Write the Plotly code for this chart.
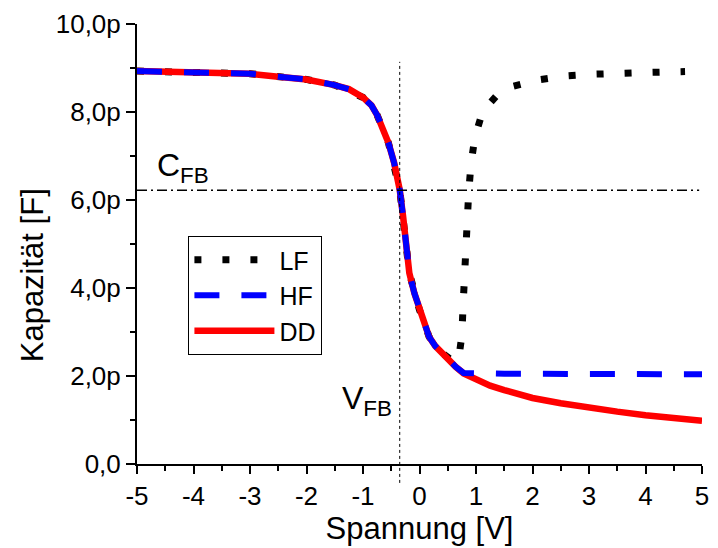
import plotly.graph_objects as go

# ---------------- data ----------------
V_DD = [-5.0, -4.5, -4.0, -3.5, -3.0, -2.5, -2.0, -1.5, -1.25, -1.0, -0.85, -0.75,
        -0.65, -0.55, -0.45, -0.35, -0.29, -0.24, -0.18, -0.09, 0.0, 0.08, 0.17,
        0.28, 0.40, 0.52, 0.64, 0.78, 1.0, 1.25, 1.5, 2.0, 2.5, 3.0, 3.5, 4.0,
        4.5, 5.0]
C_DD = [8.93, 8.92, 8.91, 8.89, 8.87, 8.80, 8.74, 8.61, 8.52, 8.33, 8.15, 7.93,
        7.65, 7.30, 6.85, 6.23, 5.62, 4.94, 4.34, 3.88, 3.50, 3.17, 2.89,
        2.68, 2.52, 2.35, 2.21, 2.06, 1.92, 1.78, 1.68, 1.50, 1.38, 1.27, 1.19, 1.11,
        1.04, 0.98]

V_HF = [-5.0, -4.5, -4.0, -3.5, -3.0, -2.5, -2.0, -1.5, -1.25, -1.0, -0.85, -0.75,
        -0.65, -0.55, -0.45, -0.35, -0.29, -0.24, -0.18, -0.09, 0.0, 0.08, 0.17,
        0.28, 0.40, 0.52, 0.64, 0.78, 1.0, 1.5, 2.0, 3.0, 4.0, 5.0]
C_HF = [8.93, 8.92, 8.91, 8.89, 8.87, 8.80, 8.74, 8.61, 8.52, 8.33, 8.15, 7.93,
        7.65, 7.30, 6.85, 6.23, 5.62, 4.94, 4.34, 3.88, 3.50, 3.17, 2.89,
        2.68, 2.52, 2.35, 2.21, 2.07, 2.06, 2.05, 2.05, 2.04, 2.04, 2.04]

V_LF = [-5.0, -4.0, -3.0, -2.0, -1.5, -1.0, -0.75, -0.55, -0.35, -0.18, 0.0, 0.17,
        0.40, 0.55, 0.65, 0.70, 0.73, 0.75, 0.77, 0.79, 0.80, 0.84, 0.87, 0.91,
        0.98, 1.08, 1.17, 1.35, 1.61, 2.1, 2.6, 3.1, 3.58, 4.09, 4.7]
C_LF = [8.93, 8.91, 8.87, 8.74, 8.61, 8.33, 7.93, 7.30, 6.23, 4.34, 3.50, 2.89,
        2.52, 2.38, 2.32, 2.45, 2.65, 2.93, 3.57, 4.23, 4.86, 5.50, 6.16, 6.80,
        7.43, 7.85, 8.09, 8.35, 8.57, 8.73, 8.82, 8.86, 8.89, 8.90, 8.92]

V_FB = -0.35     # flat-band voltage
C_FB = 6.22      # flat-band capacitance (pF)

X_RANGE = [-5, 5]
Y_RANGE = [0, 10]
X_TICKS = [-5, -4, -3, -2, -1, 0, 1, 2, 3, 4, 5]
X_TICKTEXT = ["-5", "-4", "-3", "-2", "-1", "0", "1", "2", "3", "4", "5"]
Y_TICKS = [0, 2, 4, 6, 8, 10]
Y_TICKTEXT = ["0,0", "2,0p", "4,0p", "6,0p", "8,0p", "10,0p"]

FONT = "Arial, Liberation Sans, sans-serif"

fig = go.Figure()

fig.add_trace(go.Scatter(
    x=V_LF, y=C_LF, mode="lines", name="LF", legendrank=1,
    line=dict(color="black", width=7, dash="7px,21px"),
))
fig.add_trace(go.Scatter(
    x=V_DD, y=C_DD, mode="lines", name="DD", legendrank=3,
    line=dict(color="#FF0000", width=6.5),
))
fig.add_trace(go.Scatter(
    x=V_HF, y=C_HF, mode="lines", name="HF", legendrank=2,
    line=dict(color="#0000FF", width=6, dash="25px,22px"),
))

# horizontal C_FB reference line (dash-dot)
fig.add_shape(type="line", xref="x", yref="y", x0=X_RANGE[0], x1=4.95, y0=C_FB, y1=C_FB,
              line=dict(color="black", width=1.5, dash="10px,4px,2px,4px"))

# vertical V_FB reference line (dotted), extends slightly below the axis
x_paper = (V_FB - X_RANGE[0]) / (X_RANGE[1] - X_RANGE[0])
fig.add_shape(type="line", xref="paper", yref="paper", x0=x_paper, x1=x_paper,
              y0=-0.043, y1=0.914,
              line=dict(color="black", width=1, dash="dot"))

fig.add_annotation(x=-4.69, y=6.75, xref="x", yref="y", xanchor="left", yanchor="middle",
                   text="C<sub>FB</sub>", showarrow=False,
                   font=dict(family=FONT, size=32, color="black"))
fig.add_annotation(x=-0.45, y=1.45, xref="x", yref="y", xanchor="right", yanchor="middle",
                   text="V<sub>FB</sub>", showarrow=False,
                   font=dict(family=FONT, size=32, color="black"))

# y-axis title
fig.add_annotation(x=-0.185, y=0.43, xref="paper", yref="paper", xanchor="center", yanchor="middle",
                   text="Kapazität [F]", textangle=-90, showarrow=False,
                   font=dict(family=FONT, size=31, color="black"))

fig.update_layout(
    width=718, height=548,
    margin=dict(l=137, r=9, t=24, b=84),
    paper_bgcolor="white", plot_bgcolor="white",
    font=dict(family=FONT, size=26, color="black"),
    showlegend=True,
    legend=dict(x=0.091, y=0.518, xanchor="left", yanchor="top",
                bordercolor="black", borderwidth=1, bgcolor="white",
                font=dict(family=FONT, size=25), itemwidth=80,
                traceorder="normal"),
)

fig.update_xaxes(
    range=X_RANGE, tickvals=X_TICKS, ticktext=X_TICKTEXT,
    showline=True, linecolor="black", linewidth=2, mirror=False,
    ticks="outside", ticklen=8, tickwidth=2, tickcolor="black",
    showgrid=False, zeroline=False,
    minor=dict(dtick=0.5, ticks="outside", ticklen=5, tickwidth=2, tickcolor="black", showgrid=False),
    title=dict(text="Spannung [V]", font=dict(family=FONT, size=31), standoff=6),
    tickfont=dict(family=FONT, size=26),
)
fig.update_yaxes(
    range=Y_RANGE, tickvals=Y_TICKS, ticktext=Y_TICKTEXT,
    showline=True, linecolor="black", linewidth=2, mirror=False,
    ticks="outside", ticklen=9, tickwidth=2, tickcolor="black",
    showgrid=False, zeroline=False,
    minor=dict(tickvals=[1, 3, 5, 7, 9], ticks="outside", ticklen=5, tickwidth=2, tickcolor="black", showgrid=False),
    tickfont=dict(family=FONT, size=26),
)

fig.write_html("out.html", config={"displayModeBar": False},
               post_script="document.body.style.margin='0';")
